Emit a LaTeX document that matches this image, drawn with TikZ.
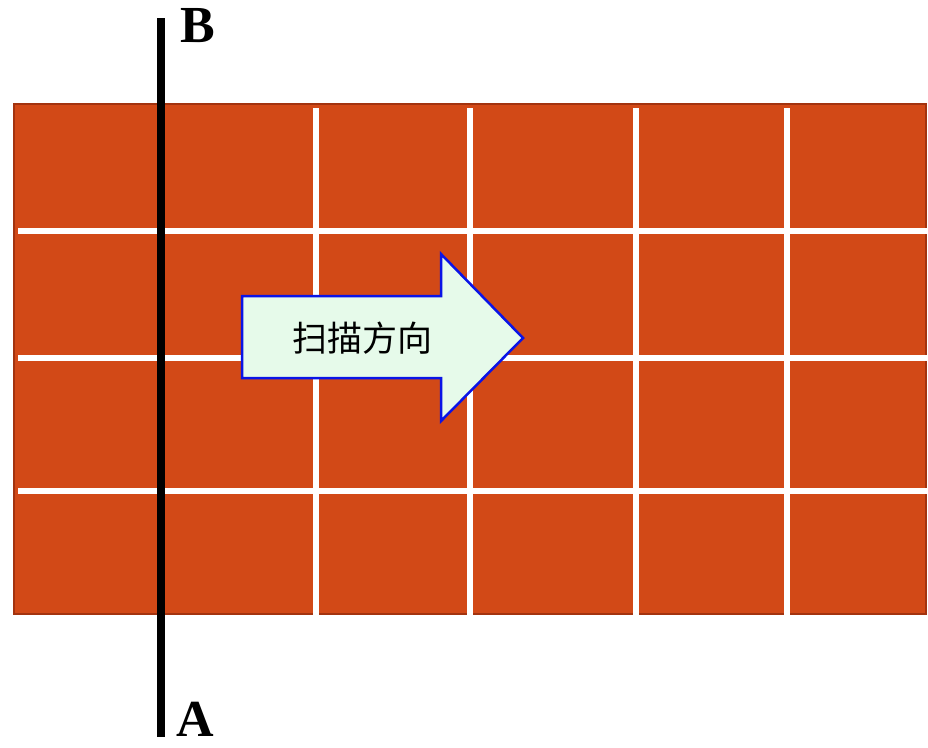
\documentclass[tikz,border=0pt]{standalone}
\usepackage{fontspec}
\setmainfont{Liberation Serif}
\newfontfamily\cjk{Noto Sans CJK SC}
\definecolor{brick}{HTML}{D24917}
\definecolor{brickedge}{HTML}{A3330F}
\definecolor{arrowfill}{HTML}{E6FAEA}
\definecolor{arrowedge}{HTML}{0A14E6}
\tikzset{
  gridline/.style={draw=white, line width=5.5pt},
  scanline/.style={draw=black, line width=8pt},
  lbl/.style={font=\fontsize{52}{52}\selectfont\bfseries, inner sep=0pt}
}
\begin{document}
\begin{tikzpicture}[x=1pt,y=-1pt]
\useasboundingbox (0,0) rectangle (928,747);
% brick field
\fill[brick, draw=brickedge, line width=2pt] (14,104) rectangle (926,614);
% white grid
\foreach \yy in {231,358,491} \draw[gridline] (18,\yy) -- (928,\yy);
\foreach \xx in {316,470,636,787} \draw[gridline] (\xx,108) -- (\xx,616);
% scan arrow
\draw[fill=arrowfill, draw=arrowedge, line width=2.5pt, line join=miter]
  (242,296) -- (441,296) -- (441,254) -- (523,338) -- (441,421) -- (441,378) -- (242,378) -- cycle;
\node[font=\cjk\fontsize{35}{35}\selectfont, inner sep=0pt] (txt) at (362,338) {扫描方向};
% scan line
\coordinate (top) at (161,18);
\coordinate (bot) at (161,737);
\draw[scanline] (top) -- (bot);
\node[lbl, anchor=north west] (B) at (180,8) {B};
\node[lbl, anchor=south west] (A) at (176,737) {A};
\end{tikzpicture}
\end{document}
